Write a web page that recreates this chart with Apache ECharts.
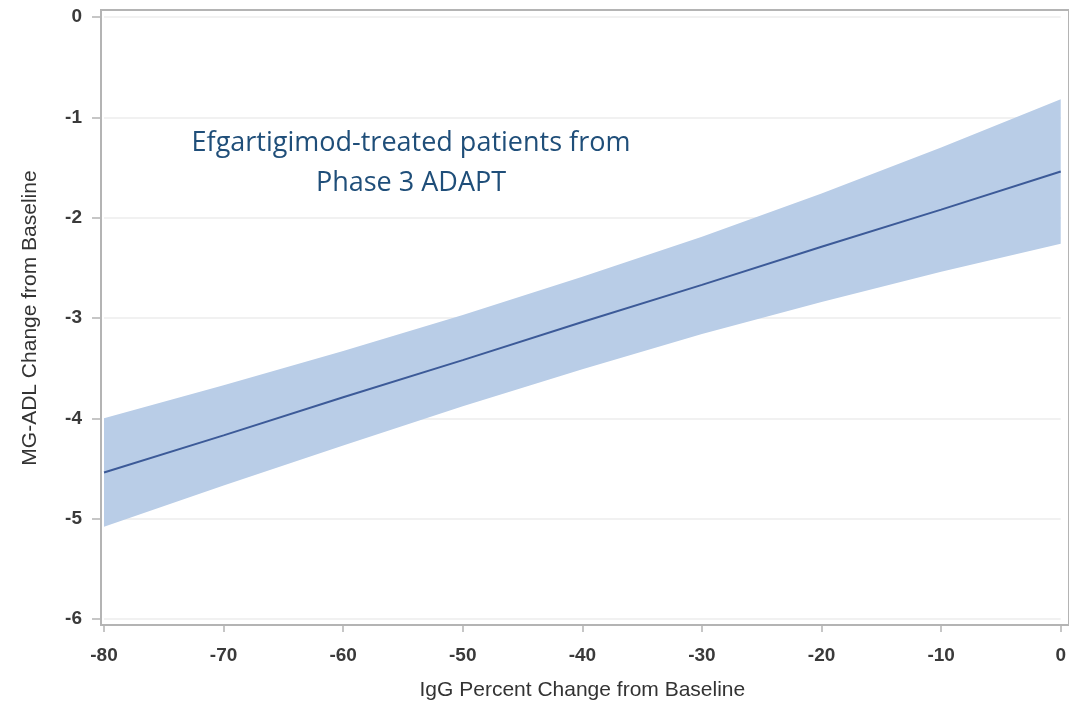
<!DOCTYPE html>
<html>
<head>
<meta charset="utf-8">
<script src="https://cdn.jsdelivr.net/npm/echarts@6/dist/echarts.min.js"></script>
<style>html,body{margin:0;padding:0;background:#fff;}#c{width:1069px;height:706px;}</style>
</head>
<body>
<div id="c"></div>
<script>
var igg = [-80, -70, -60, -50, -40, -30, -20, -10, 0];
var fit = [-4.54, -4.17, -3.79, -3.42, -3.04, -2.67, -2.29, -1.92, -1.54];
var upper = [-4.00, -3.67, -3.33, -2.97, -2.59, -2.19, -1.76, -1.30, -0.82];
var lower = [-5.08, -4.67, -4.27, -3.88, -3.51, -3.16, -2.84, -2.54, -2.26];
var xTicks = [-80, -70, -60, -50, -40, -30, -20, -10, 0];
var yTicks = [-6, -5, -4, -3, -2, -1, 0];

var fitData = igg.map(function (x, i) { return [x, fit[i]]; });
var bandData = igg.map(function (x, i) { return [x, lower[i], upper[i]]; });

var chart = echarts.init(document.getElementById('c'));
var labelStyle = { color: '#3a3a3a', fontSize: 19, fontWeight: 'bold', fontFamily: 'Liberation Sans, Arial, sans-serif' };
var nameStyle = { color: '#333', fontSize: 21, fontFamily: 'Liberation Sans, Arial, sans-serif' };
chart.setOption({
  animation: false,
  grid: [
    { left: 104, right: 5, top: 17, bottom: 86, show: false },
    { left: 101, right: -4, top: 10, bottom: 81, show: true, borderColor: '#b4b4b4', borderWidth: 2, backgroundColor: 'transparent' }
  ],
  xAxis: [{
    type: 'value', gridIndex: 0, min: xTicks[0], max: xTicks[xTicks.length - 1], interval: 10,
    offset: 6,
    axisLine: { show: false, onZero: false },
    axisTick: { show: true, length: 7, lineStyle: { color: '#b4b4b4', width: 1.5 } },
    axisLabel: Object.assign({ margin: 21 }, labelStyle),
    splitLine: { show: false },
    name: 'IgG Percent Change from Baseline', nameLocation: 'middle', nameGap: 55,
    nameTextStyle: nameStyle
  }, { type: 'value', gridIndex: 1, show: false }],
  yAxis: [{
    type: 'value', gridIndex: 0, min: yTicks[0], max: yTicks[yTicks.length - 1], interval: 1,
    offset: 3,
    axisLine: { show: false, onZero: false },
    axisTick: { show: true, length: 9, lineStyle: { color: '#b4b4b4', width: 1.5 } },
    axisLabel: Object.assign({ margin: 19 }, labelStyle),
    splitLine: { show: true, lineStyle: { color: '#ececec', width: 1.5 } },
    name: 'MG-ADL Change from Baseline', nameLocation: 'middle', nameGap: 60,
    nameTextStyle: nameStyle
  }, { type: 'value', gridIndex: 1, show: false }],
  graphic: [{
    type: 'text', x: 411, y: 123, z: 100,
    style: {
      text: 'Efgartigimod-treated patients from\nPhase 3 ADAPT',
      fill: '#1f4e79', fontSize: 27, fontFamily: '"Open Sans", "Noto Sans", sans-serif',
      align: 'center', verticalAlign: 'top', lineHeight: 40
    }
  }],
  series: [
    {
      type: 'custom', silent: true, data: [0],
      renderItem: function (params, api) {
        var pts = [];
        for (var i = 0; i < bandData.length; i++) pts.push(api.coord([bandData[i][0], bandData[i][2]]));
        for (var j = bandData.length - 1; j >= 0; j--) pts.push(api.coord([bandData[j][0], bandData[j][1]]));
        return { type: 'polygon', shape: { points: pts }, style: { fill: '#b9cde7' } };
      }
    },
    {
      type: 'line', data: fitData, symbol: 'none', z: 5,
      lineStyle: { color: '#3c5a98', width: 2 }
    }
  ]
});
</script>
</body>
</html>
